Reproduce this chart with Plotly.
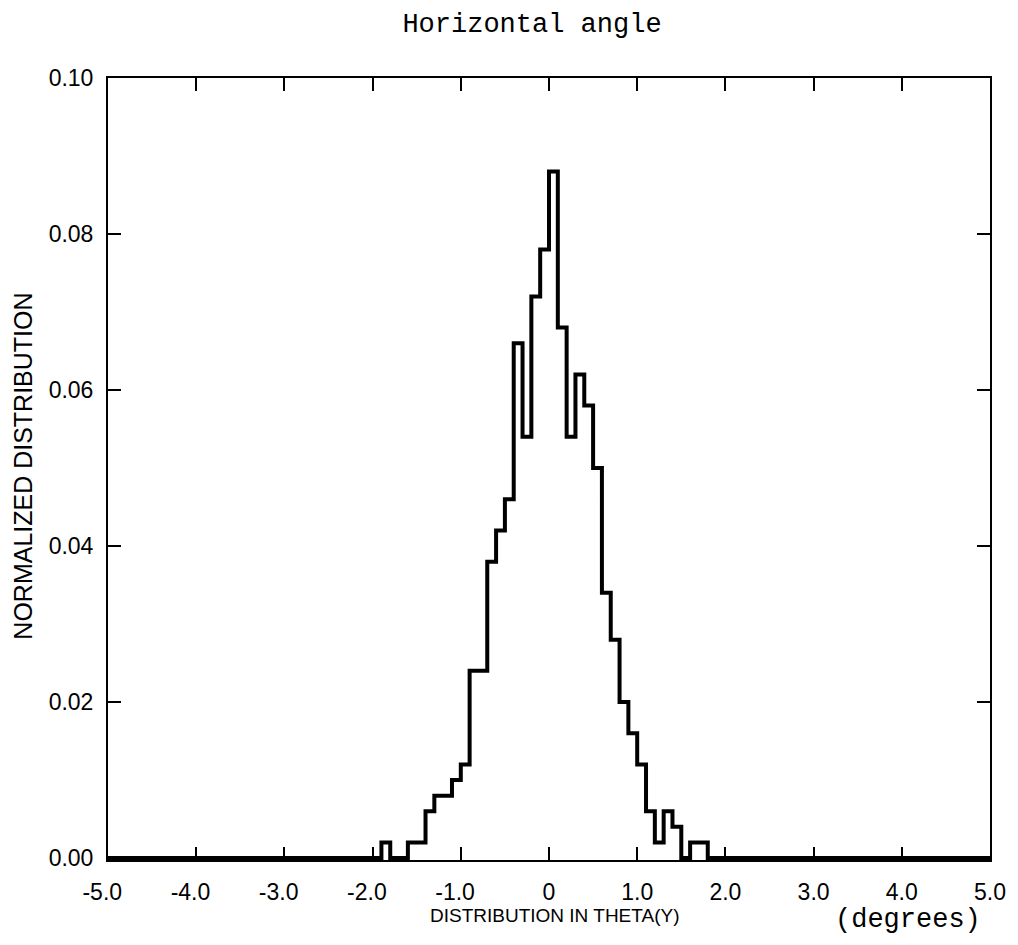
import plotly.graph_objects as go

# Histogram bins (left edges, width 0.1 deg) and normalized values
bin_left = [-1.9, -1.8, -1.7, -1.6, -1.5, -1.4, -1.3, -1.2, -1.1, -1.0,
            -0.9, -0.8, -0.7, -0.6, -0.5, -0.4, -0.3, -0.2, -0.1, 0.0,
            0.1, 0.2, 0.3, 0.4, 0.5, 0.6, 0.7, 0.8, 0.9, 1.0,
            1.1, 1.2, 1.3, 1.4, 1.5, 1.6, 1.7]
bin_values = [0.002, 0.0, 0.0, 0.002, 0.002, 0.006, 0.008, 0.008, 0.010, 0.012,
              0.024, 0.024, 0.038, 0.042, 0.046, 0.066, 0.054, 0.072, 0.078, 0.088,
              0.068, 0.054, 0.062, 0.058, 0.050, 0.034, 0.028, 0.020, 0.016, 0.012,
              0.006, 0.002, 0.006, 0.004, 0.0, 0.002, 0.002]
bin_width = 0.1
x_range = [-5.0, 5.0]

x_tickvals = [-5, -4, -3, -2, -1, 0, 1, 2, 3, 4, 5]
x_ticktext = ["-5.0", "-4.0", "-3.0", "-2.0", "-1.0", "0", "1.0", "2.0", "3.0", "4.0", "5.0"]
y_tickvals = [0.0, 0.02, 0.04, 0.06, 0.08, 0.10]
y_ticktext = ["0.00", "0.02", "0.04", "0.06", "0.08", "0.10"]

# step outline from -5 to 5
xs = [x_range[0]] + bin_left + [round(bin_left[-1] + bin_width, 2), x_range[1]]
ys = [0.0] + bin_values + [0.0, 0.0]

pad = "\u2002"
x_ticktext_pad = [t + pad if t.startswith("-") else t for t in x_ticktext]

fig = go.Figure()
fig.add_trace(go.Scatter(
    x=xs, y=ys, mode="lines", line=dict(shape="hv", color="black", width=4),
    hoverinfo="skip", showlegend=False))

tickfont = dict(family="Liberation Sans, Arial, sans-serif", size=23, color="black")
axis_common = dict(showline=True, linewidth=2, linecolor="black", mirror="ticks",
                   ticks="inside", ticklen=13, tickwidth=1.5, tickcolor="black",
                   showgrid=False, zeroline=False, tickfont=tickfont)

fig.update_xaxes(range=x_range, tickvals=x_tickvals, ticktext=x_ticktext_pad,
                 ticklabelstandoff=10, **axis_common)
fig.update_yaxes(range=[-0.00025, 0.10], tickvals=y_tickvals, ticktext=y_ticktext,
                 ticklabelstandoff=8, **axis_common)

fig.update_layout(
    width=1018, height=945,
    margin=dict(l=108, r=21, t=78, b=85),
    paper_bgcolor="white", plot_bgcolor="white",
    title=dict(text="Horizontal angle", x=532 / 1018, xanchor="center",
               y=1 - 23 / 945, yanchor="middle",
               font=dict(family="Liberation Mono, Courier New, monospace", size=27, color="black")),
    annotations=[
        dict(text="NORMALIZED DISTRIBUTION", xref="paper", yref="paper",
             x=(22 - 108) / 889, y=(860 - 466) / 782, xanchor="center", yanchor="middle",
             textangle=-90, showarrow=False,
             font=dict(family="Liberation Sans, Arial, sans-serif", size=25, color="black")),
        dict(text="DISTRIBUTION IN THETA(Y)", xref="paper", yref="paper",
             x=(558 - 108) / 889, y=(860 - 916) / 782, xanchor="center", yanchor="middle",
             showarrow=False,
             font=dict(family="Liberation Sans, Arial, sans-serif", size=19, color="black")),
        dict(text="(degrees)", xref="paper", yref="paper",
             x=(914 - 108) / 889, y=(860 - 920) / 782, xanchor="center", yanchor="middle",
             showarrow=False,
             font=dict(family="Liberation Mono, Courier New, monospace", size=27, color="black")),
    ],
)

fig.write_html("out.html")
